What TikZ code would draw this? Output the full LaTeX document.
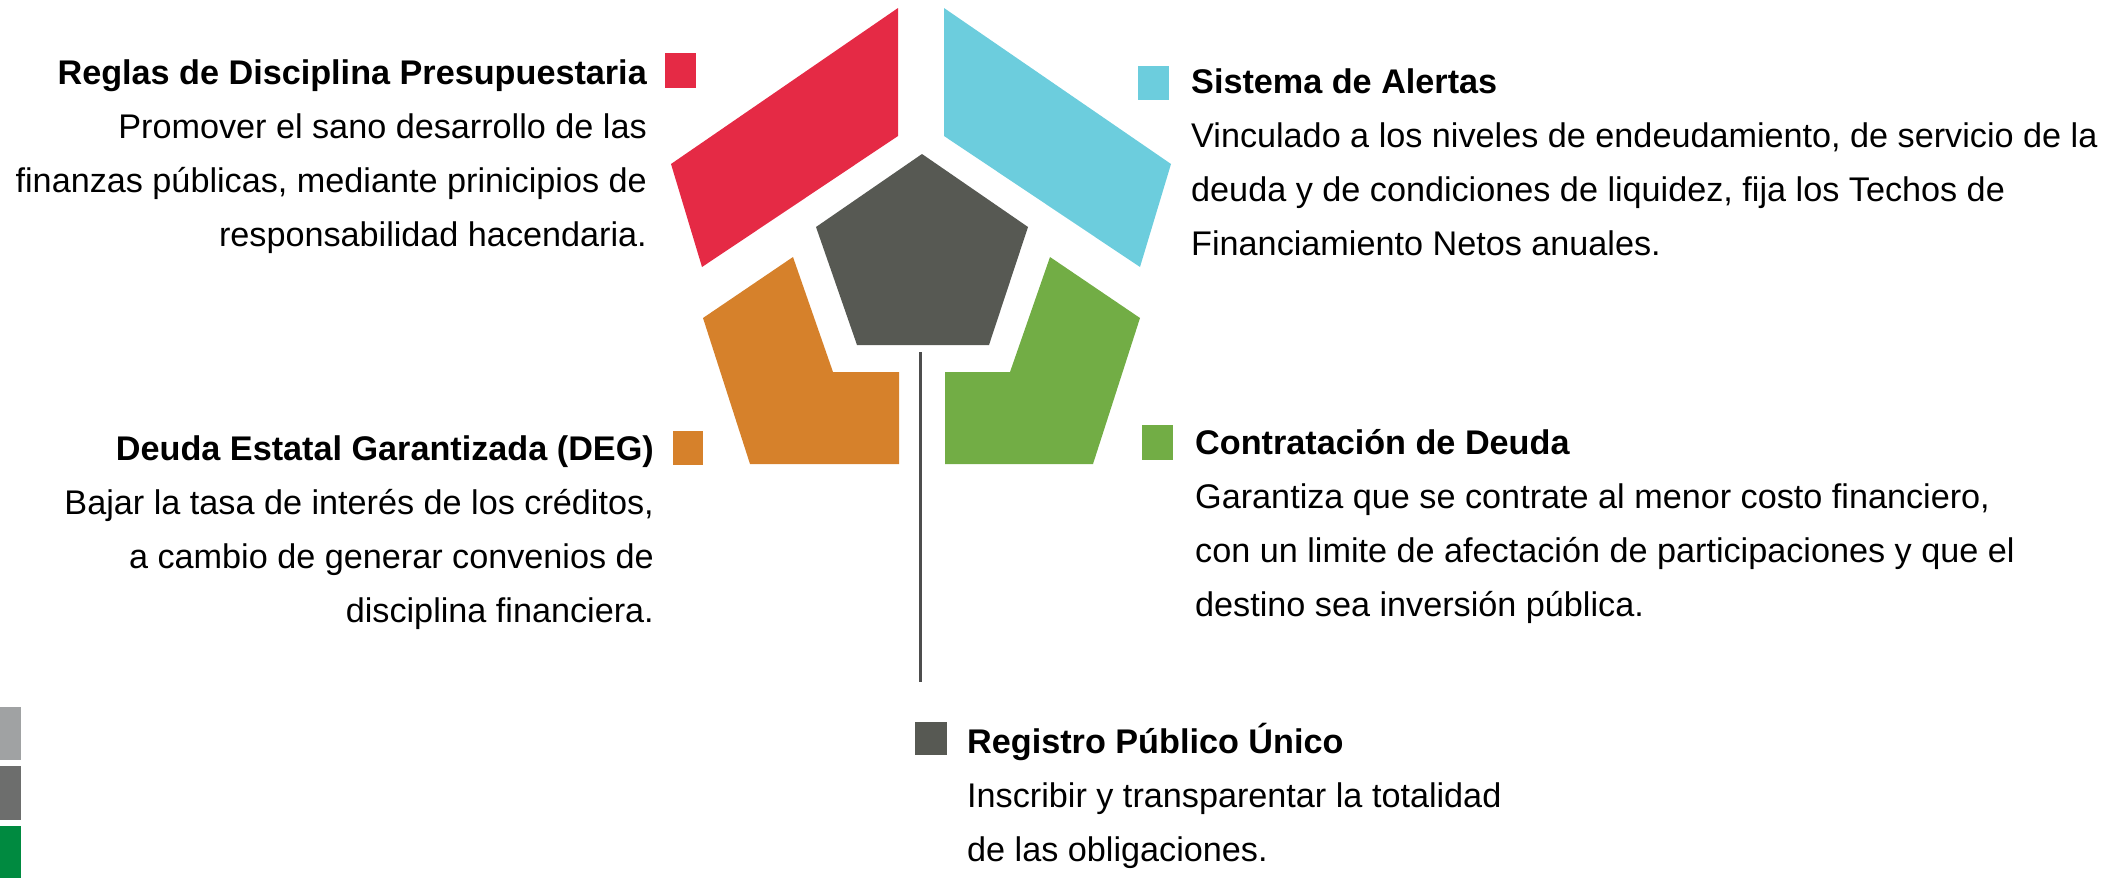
\documentclass[tikz,border=0pt]{standalone}
\usepackage{fontspec}
\setmainfont{Liberation Sans}
\definecolor{cRed}{HTML}{E52A45}
\definecolor{cCyan}{HTML}{6CCDDD}
\definecolor{cDark}{HTML}{575953}
\definecolor{cOrange}{HTML}{D6812B}
\definecolor{cGreen}{HTML}{72AD45}
\definecolor{cLine}{HTML}{4D4D4D}
\definecolor{sGrayA}{HTML}{A0A2A3}
\definecolor{sGrayB}{HTML}{6D6E6D}
\definecolor{sGreen}{HTML}{008A40}
\begin{document}
\begin{tikzpicture}[x=1pt,y=-1pt,
  body/.style={inner sep=0pt, font=\fontsize{34.2}{40}\selectfont},
  head/.style={inner sep=0pt, font=\fontsize{34.2}{40}\selectfont\bfseries},
  connector/.style={draw=cLine, line width=3pt}]
\useasboundingbox (0,0) rectangle (2125,878);

% pentagon pieces
\fill[cRed] (898,8) -- (898,136) -- (702,267) -- (671,164) -- cycle;
\fill[cCyan] (944,8) -- (944,136) -- (1140,267) -- (1171,164) -- cycle;
\fill[cDark] (922,154) -- (1028,227) -- (989,345) -- (857,345) -- (816,227) -- cycle;
\fill[cOrange] (793,257) -- (833,372) -- (899,372) -- (899,464) -- (750,464) -- (703,318) -- cycle;
\fill[cGreen] (1050,257) -- (1010,372) -- (945,372) -- (945,464) -- (1093,464) -- (1140,318) -- cycle;

% legend squares
\fill[cRed] (665,53) rectangle (696,88);
\fill[cCyan] (1138,66) rectangle (1169,100);
\fill[cOrange] (673,431) rectangle (703,465);
\fill[cGreen] (1142,425) rectangle (1173,460);
\fill[cDark] (915,722) rectangle (947,755);

% left strip
\fill[sGrayA] (0,707) rectangle (21,760);
\fill[sGrayB] (0,766) rectangle (21,820);
\fill[sGreen] (0,826) rectangle (21,878);

% connector
\coordinate (lt) at (920,352);
\coordinate (lb) at (920,682);
\draw[connector] (lt) -- (lb);

% Reglas
\node[head, anchor=base east] (r0) at (647,84) {Reglas de Disciplina Presupuestaria};
\node[body, anchor=base east] (r1) at (647,138) {Promover el sano desarrollo de las};
\node[body, anchor=base east] (r2) at (647,192) {finanzas públicas, mediante prinicipios de};
\node[body, anchor=base east] (r3) at (647,246) {responsabilidad hacendaria.};

% DEG
\node[head, anchor=base east] (d0) at (654,460) {Deuda Estatal Garantizada (DEG)};
\node[body, anchor=base east] (d1) at (654,514) {Bajar la tasa de interés de los créditos,};
\node[body, anchor=base east] (d2) at (654,568) {a cambio de generar convenios de};
\node[body, anchor=base east] (d3) at (654,622) {disciplina financiera.};

% Sistema
\node[head, anchor=base west] (s0) at (1191,93) {Sistema de Alertas};
\node[body, anchor=base west] (s1) at (1191,147) {Vinculado a los niveles de endeudamiento, de servicio de la};
\node[body, anchor=base west] (s2) at (1191,201) {deuda y de condiciones de liquidez, fija los Techos de};
\node[body, anchor=base west] (s3) at (1191,255) {Financiamiento Netos anuales.};

% Contratacion
\node[head, anchor=base west] (c0) at (1195,454) {Contratación de Deuda};
\node[body, anchor=base west] (c1) at (1195,508) {Garantiza que se contrate al menor costo financiero,};
\node[body, anchor=base west] (c2) at (1195,562) {con un limite de afectación de participaciones y que el};
\node[body, anchor=base west] (c3) at (1195,616) {destino sea inversión pública.};

% Registro
\node[head, anchor=base west] (g0) at (967,753) {Registro Público Único};
\node[body, anchor=base west] (g1) at (967,807) {Inscribir y transparentar la totalidad};
\node[body, anchor=base west] (g2) at (967,861) {de las obligaciones.};
\end{tikzpicture}
\end{document}
